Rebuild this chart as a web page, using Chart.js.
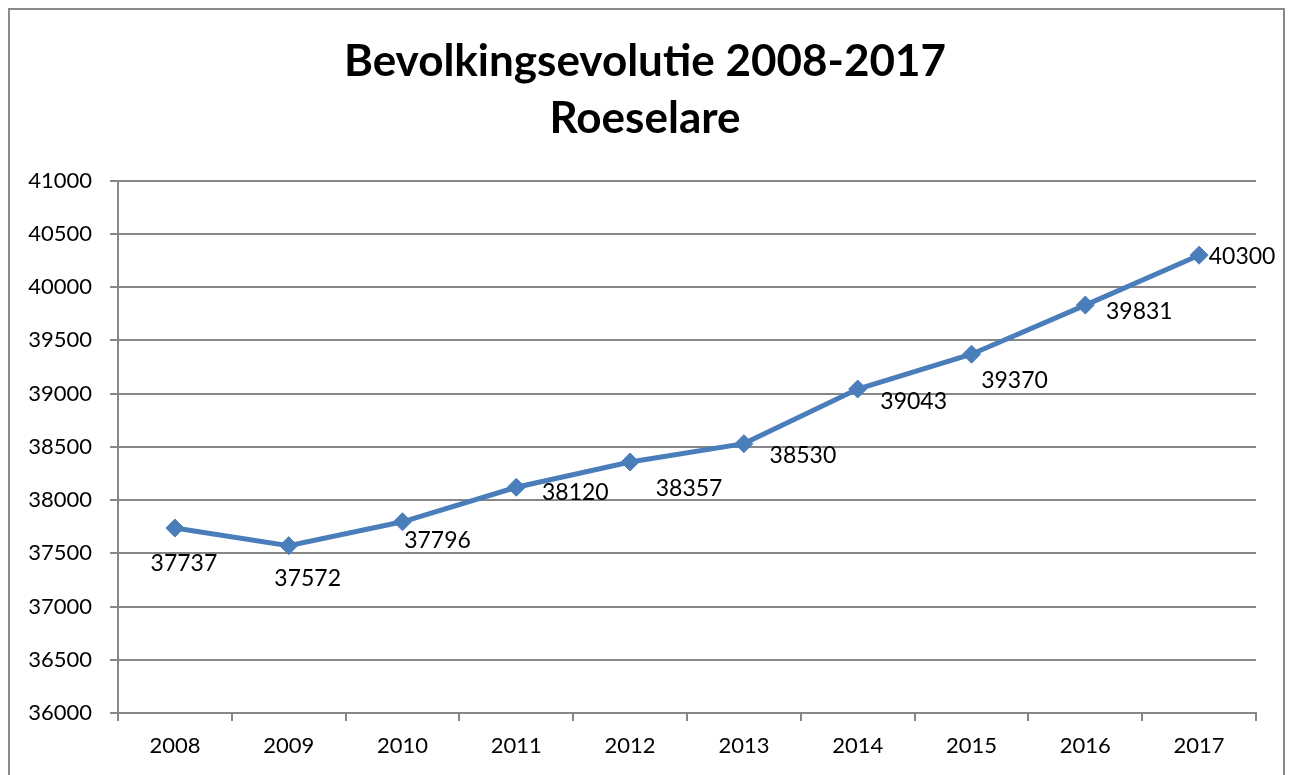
<!DOCTYPE html>
<html>
<head>
<meta charset="utf-8">
<script src="https://cdn.jsdelivr.net/npm/chart.js@4.4.1/dist/chart.umd.min.js"></script>
<style>
  html, body { margin: 0; padding: 0; background: #fff; }
  #wrap { width: 1290px; height: 775px; position: relative; }
</style>
</head>
<body>
<div id="wrap"><canvas id="c" width="1290" height="775"></canvas></div>
<script>
const categories = ['2008', '2009', '2010', '2011', '2012', '2013', '2014', '2015', '2016', '2017'];
const population = [37737, 37572, 37796, 38120, 38357, 38530, 39043, 39370, 39831, 40300];
const titleLines = ['Bevolkingsevolutie 2008-2017', 'Roeselare'];

// label offsets relative to each point (layout only)
const labelOffsets = [[9,36],[19,33],[35,19],[59,5],[59,27],[59,12],[56,13],[43,26],[54,6],[43,1]];

const FONT = 'Lato, "Open Sans", sans-serif';
const GRID = '#878787';

const frame = {
  id: 'frame',
  beforeDraw(chart) {
    const ctx = chart.ctx;
    ctx.save();
    ctx.fillStyle = '#fff';
    ctx.fillRect(0, 0, chart.width, chart.height);
    ctx.strokeStyle = '#8a8a8a';
    ctx.lineWidth = 2;
    ctx.strokeRect(9, 9, 1275, 820);
    ctx.restore();
  }
};

const valueLabels = {
  id: 'valueLabels',
  afterDatasetsDraw(chart) {
    const ctx = chart.ctx;
    const meta = chart.getDatasetMeta(0);
    ctx.save();
    ctx.font = '23px ' + FONT;
    ctx.fillStyle = '#000';
    ctx.textAlign = 'center';
    ctx.textBaseline = 'middle';
    meta.data.forEach((pt, i) => {
      const off = labelOffsets[i];
      ctx.fillText(String(chart.data.datasets[0].data[i]), pt.x + off[0], pt.y + off[1]);
    });
    ctx.restore();
  }
};

new Chart(document.getElementById('c'), {
  type: 'line',
  data: {
    labels: categories,
    datasets: [{
      data: population,
      yAxisID: 'y',
      borderColor: '#4a7ebb',
      backgroundColor: '#4a7ebb',
      borderWidth: 5,
      tension: 0,
      pointStyle: 'rectRot',
      pointRadius: 9,
      pointBorderWidth: 1,
      pointBackgroundColor: '#4a7ebb',
      pointBorderColor: '#4a7ebb'
    }]
  },
  options: {
    responsive: false,
    animation: false,
    devicePixelRatio: 1,
    layout: { padding: { left: 0, right: 0, top: 0, bottom: 0 } },
    plugins: {
      legend: { display: false },
      tooltip: { enabled: false },
      title: {
        display: true,
        text: titleLines,
        color: '#000',
        font: { family: FONT, size: 44, weight: 'bold', lineHeight: 1.28 },
        padding: { top: 34, bottom: 34 }
      }
    },
    scales: {
      x: {
        offset: true,
        grid: { display: true, offset: true, drawOnChartArea: false, drawTicks: true, tickLength: 8, color: GRID, lineWidth: 2 },
        border: { display: true, color: GRID, width: 2 },
        ticks: { color: '#000', font: { family: FONT, size: 22 }, padding: 12, maxRotation: 0 },
        afterFit(scale) { scale.height = 62; }
      },
      y: {
        min: 36000,
        max: 41000,
        grid: { color: GRID, lineWidth: 2, tickLength: 8, drawTicks: true },
        border: { display: true, color: GRID, width: 2 },
        ticks: { stepSize: 500, color: '#000', font: { family: FONT, size: 22 }, padding: 18, callback: v => String(v) },
        afterFit(scale) { scale.width = 118; }
      },
      spacer: {
        position: 'right',
        display: true,
        grid: { display: false, drawTicks: false },
        border: { display: false },
        ticks: { display: false },
        afterFit(scale) { scale.width = 34; }
      }
    }
  },
  plugins: [frame, valueLabels]
});
</script>
</body>
</html>
